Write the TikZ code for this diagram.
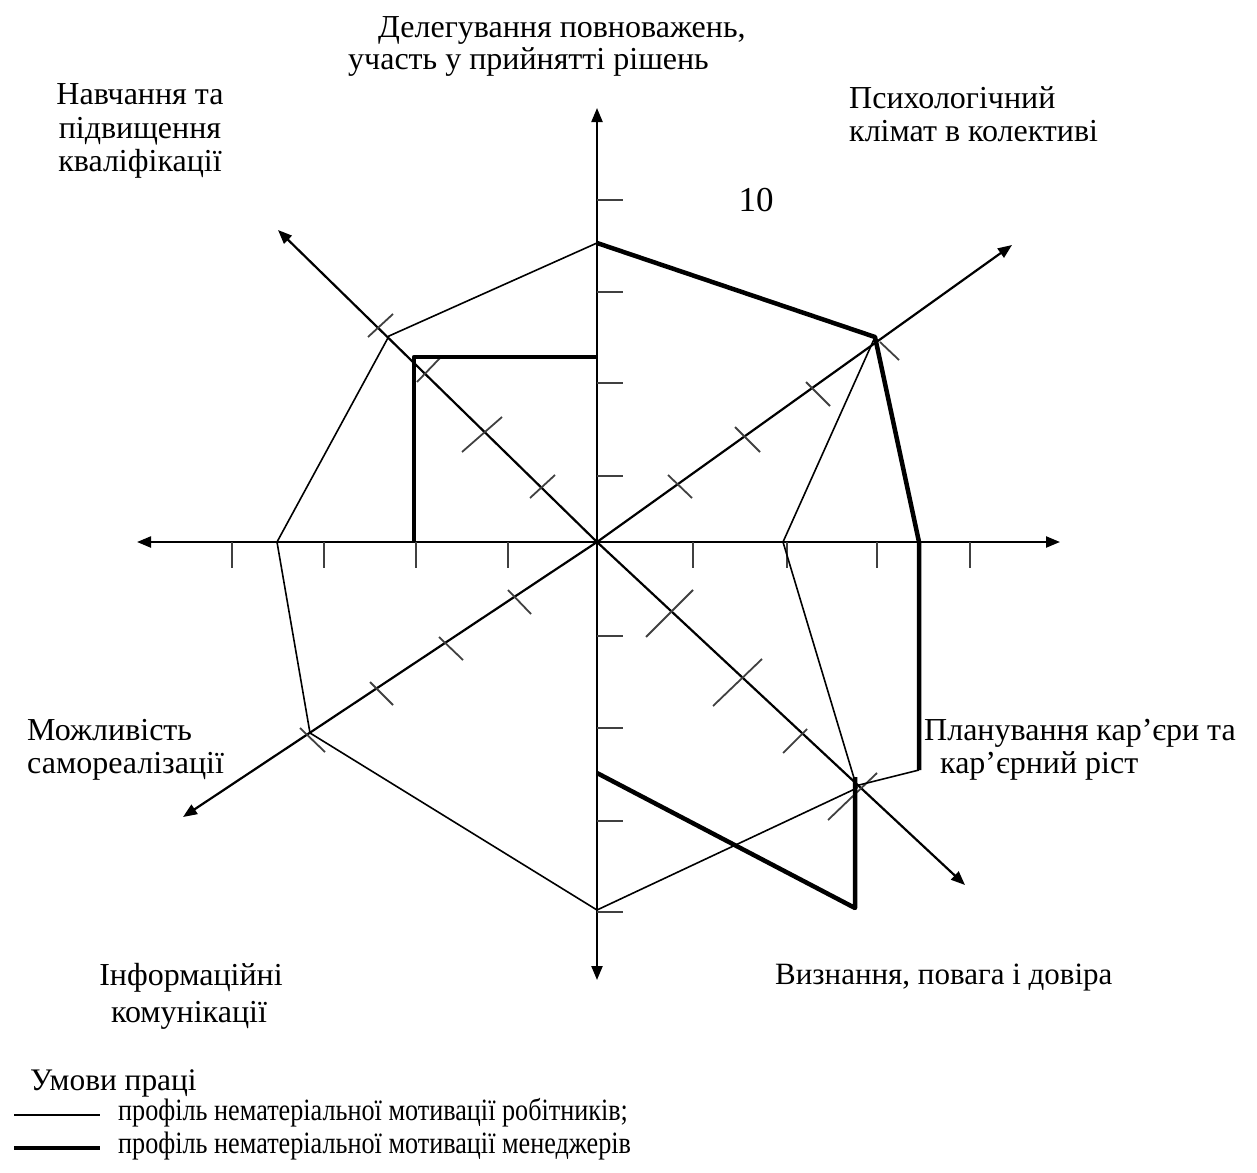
\documentclass[tikz,border=0pt]{standalone}
\usepackage{fontspec}
\setmainfont{Liberation Serif}
\newfontfamily\condfont[FakeStretch=0.845]{Liberation Serif}
\usetikzlibrary{arrows.meta}
\begin{document}
\begin{tikzpicture}[x=1pt,y=-1pt,
  axisline/.style={line width=2.2pt,-{Triangle[length=14pt,width=11pt]}},
  tickline/.style={line width=1.8pt,black!75},
  worker/.style={line width=1.6pt,line join=round},
  manager/.style={line width=4.5pt,line join=round},
  lbl/.style={inner sep=0pt,font=\fontsize{32}{33.5}\selectfont},
  leg/.style={inner sep=0pt,font=\condfont\fontsize{31}{33}\selectfont},
]
\useasboundingbox (0,0) rectangle (1257,1172);
% named points
\coordinate (O) at (597,542);
\coordinate (aN) at (597,108);
\coordinate (aS) at (597,980);
\coordinate (aW) at (137,542);
\coordinate (aE) at (1060,542);
\coordinate (aNE) at (1012,245);
\coordinate (aNW) at (278,230);
\coordinate (aSW) at (183,817);
\coordinate (aSE) at (965,885);
% axes
\foreach \t in {aN,aS,aW,aE,aNE,aNW,aSW,aSE} \draw[axisline] (O) -- (\t);
% ticks on vertical axis
\foreach \y in {200,292,383,476,636,728,821,912} \draw[tickline] (597,\y) -- (623,\y);
% ticks on horizontal axis
\foreach \x in {232,324,416,508,693,787,877,970} \draw[tickline] (\x,542) -- (\x,568);
% ticks on diagonal axes
\draw[tickline] (368,337) -- (393,314);
\draw[tickline] (417,382) -- (440,358);
\draw[tickline] (462,452) -- (502,417);
\draw[tickline] (530,498) -- (555,475);
\draw[tickline] (646,637) -- (693,590);
\draw[tickline] (713,706) -- (762,659);
\draw[tickline] (783,753) -- (807,729);
\draw[tickline] (828,820) -- (877,773);
\draw[tickline] (668,475) -- (692,498);
\draw[tickline] (735,427) -- (760,452);
\draw[tickline] (806,382) -- (830,406);
\draw[tickline] (880,342) -- (899,360);
\draw[tickline] (508,590) -- (531,614);
\draw[tickline] (439,637) -- (463,660);
\draw[tickline] (370,682) -- (393,705);
\draw[tickline] (300,728) -- (325,752);
% worker profile
\coordinate (wT) at (597,243);
\coordinate (wNW) at (389,336);
\coordinate (wW) at (277,542);
\coordinate (wSW) at (310,733);
\coordinate (wB) at (597,910);
\coordinate (wSE) at (857,788);
\coordinate (wE) at (783,542);
\coordinate (wNE) at (875,337);
\draw[worker] (wT) -- (wNW) -- (wW) -- (wSW) -- (wB) -- (wSE) -- (wE) -- (wNE);
% manager profile
\coordinate (m1) at (597,357);
\coordinate (m2) at (414,357);
\coordinate (m3) at (414,542);
\coordinate (m4) at (919,542);
\coordinate (m5) at (919,770);
\coordinate (m6) at (855,786);
\coordinate (m7) at (855,777);
\coordinate (m8) at (855,908);
\coordinate (m9) at (597,773);
\draw[manager] (m1) -- (m2) -- (m3);
\draw[manager] (wT) -- (wNE) -- (m4) -- (m5);
\draw[worker] (m5) -- (m6);
\draw[manager] (m7) -- (m8) -- (m9);
% labels
\node[lbl,anchor=west] (del1) at (378,30) {Делегування повноважень,};
\node[lbl,anchor=west] (del2) at (348,62) {участь у прийнятті рішень};
\node[lbl,align=center] (nav) at (140,131) {Навчання та\\підвищення\\кваліфікації};
\node[lbl,align=left,anchor=west] (psy) at (849,114) {Психологічний\\клімат в колективі};
\node[lbl,font=\fontsize{35}{36}\selectfont] (ten) at (756,200) {10};
\node[lbl,anchor=west] (plan1) at (924,733) {Планування кар’єри та};
\node[lbl,anchor=west] (plan2) at (940,766) {кар’єрний ріст};
\node[lbl,align=left,anchor=west] (mozh) at (27,750) {Можливість\\самореалізації};
\node[lbl,anchor=west,font=\fontsize{31}{33}\selectfont] (vyzn) at (775,978) {Визнання, повага і довіра};
\node[lbl] (inf1) at (191,978) {Інформаційні};
\node[lbl] (inf2) at (189,1015) {комунікації};
% legend
\node[lbl,anchor=west,font=\fontsize{31.4}{33}\selectfont] (umovy) at (30,1083) {Умови праці};
\coordinate (lg1a) at (14,1115);
\coordinate (lg1b) at (100,1115);
\coordinate (lg2a) at (14,1148);
\coordinate (lg2b) at (100,1148);
\draw[worker] (lg1a) -- (lg1b);
\draw[manager] (lg2a) -- (lg2b);
\node[leg,anchor=west] (leg1) at (118,1113) {профіль нематеріальної мотивації робітників;};
\node[leg,anchor=west] (leg2) at (118,1146) {профіль нематеріальної мотивації менеджерів};
\end{tikzpicture}
\end{document}
